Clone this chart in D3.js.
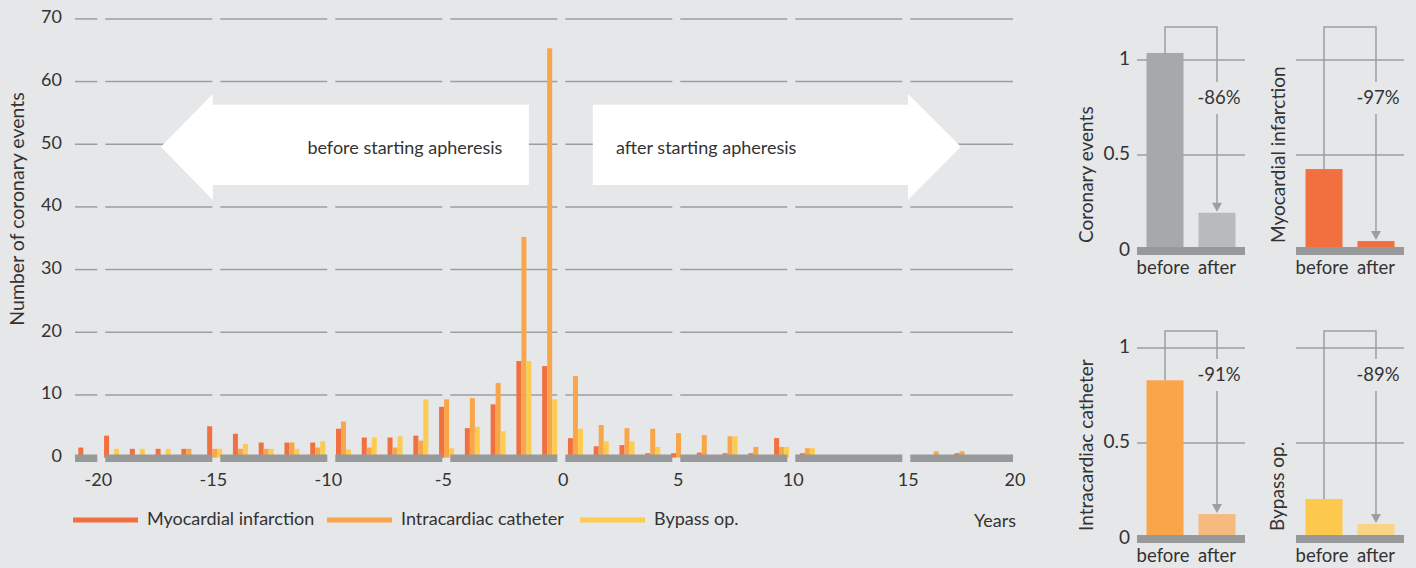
<!DOCTYPE html>
<html lang="en">
<head>
	<meta charset="UTF-8">
	<title>Coronary events and apheresis</title>
	<script src="https://cdn.jsdelivr.net/npm/d3@7"></script>
	<style>
		html,body{
			margin:0;
			padding:0;
			background:#e6e7e9;
		}
		svg{
			display:block;
			font-family:Lato,"Open Sans",sans-serif;
		}
		text{
			fill:#333;
		}
	</style>
</head>
<body>
	<svg id="svg" width="1416" height="568"></svg>
	<script>
		// time bins (a bit over one year each), oldest first
		var periods = [0,1,2,3,4,5,6,7,8,9,10,11,12,13,14,15,16,17,18,19,20,21,22,23,24,25,26,27,28,29,30,31,32,33,34];
		var infarction = [1.6,3.5,1.4,1.4,1.4,5.0,3.8,2.4,2.4,2.4,4.6,3.2,3.2,3.5,8.1,4.7,8.5,15.4,14.6,3.1,1.8,2.0,0.7,0.7,0.8,0.7,0.7,3.1,0.7,0,0,0,0,0,0.7];
		var catheter   = [0,0,0,0,1.4,1.4,1.4,1.4,2.4,1.6,5.75,1.6,1.6,2.7,9.3,9.5,11.9,35.2,65.3,13.0,5.2,4.7,4.6,3.9,3.6,3.4,1.7,1.7,1.5,0,0,0,0,1.0,1.0];
		var bypass     = [0,1.4,1.4,1.4,0,1.4,2.2,1.4,1.4,2.6,1.3,3.2,3.4,9.3,1.5,4.9,4.2,15.4,9.3,4.6,2.6,2.6,1.7,0,0,3.4,0,1.7,1.5,0,0,0,0,0,0];
		var seriesNames = ["Myocardial infarction","Intracardiac catheter","Bypass op."];
		var seriesColors = ["#f26f3f","#f9a54a","#fdcb4f"];
		var yTicks = [0,10,20,30,40,50,60,70];
		var yearTicks = [-20,-15,-10,-5,0,5,10,15,20];

		var panelNames = ["Coronary events","Myocardial infarction","Intracardiac catheter","Bypass op."];
		var beforeValues = [1.037,0.426,0.83,0.205];
		var afterValues = [0.196,0.047,0.126,0.074];
		var changeLabels = ["-86%","-97%","-91%","-89%"];
		var beforeColors = ["#a7a8aa","#f26f3f","#f9a54a","#fdc94c"];
		var afterColors = ["#b9babc","#f26f3f","#f5bb7e","#f8d485"];
		var panelTicks = [0,0.5,1];

		var svg = d3.select("svg");
		var grid = "#9d9ea0", base = "#98999b";

		// ---- main chart ----
		var y = d3.scaleLinear().domain([0,70]).range([457.6,18.9]);
		var xYear = d3.scaleLinear().domain([-20,15,20]).range([101.3,906.3,1013]);
		var bins = d3.scaleBand().domain(periods).range([78.3,969.5]).paddingInner(0.418).paddingOuter(0);
		var sub = d3.scaleBand().domain([0,1,2]).range([0,bins.bandwidth()]);

		// grid segments broken at every 5-year tick
		var cuts = yearTicks.slice(0,-1).map(function(t){return xYear(t);});
		var segs = [];
		var left = 75;
		cuts.forEach(function(c){
			segs.push([left,c-4]);
			left = c+4;
		});
		segs.push([left,xYear(20)]);

		yTicks.slice(1).forEach(function(v){
			svg.append("g").selectAll("line").data(segs).enter().append("line")
				.attr("x1",function(d){return d[0];})
				.attr("x2",function(d){return d[1];})
				.attr("y1",y(v)).attr("y2",y(v))
				.attr("stroke",grid).attr("stroke-width",1.5);
		});

		// arrows "before / after"
		var arrows = [
			{tip:-17.41, head:-15.15, end:-1.41, label:"before starting apheresis", lx:-6.8},
			{tip:17.56, head:15.08, end:1.37, label:"after starting apheresis", lx:6.3}
		];
		arrows.forEach(function(a){
			var pts = [
				[xYear(a.tip),y(49.6)],
				[xYear(a.head),y(58)],
				[xYear(a.head),y(56.3)],
				[xYear(a.end),y(56.3)],
				[xYear(a.end),y(43.5)],
				[xYear(a.head),y(43.5)],
				[xYear(a.head),y(41.1)]
			];
			svg.append("polygon")
				.attr("points",pts.map(function(p){return p.join(",");}).join(" "))
				.attr("fill","#fff");
			svg.append("text")
				.attr("x",xYear(a.lx)).attr("y",y(49.1))
				.attr("text-anchor","middle").attr("dominant-baseline","middle")
				.style("font-size","18px")
				.text(a.label);
		});

		var series = [infarction,catheter,bypass];
		series.forEach(function(vals,s){
			svg.append("g").selectAll("rect")
				.data(periods.filter(function(p){return vals[p]>0;}))
				.enter().append("rect")
				.attr("x",function(p){return bins(p)+sub(s);})
				.attr("width",sub.bandwidth())
				.attr("y",function(p){return y(vals[p]);})
				.attr("height",function(p){return y(0)-y(vals[p]);})
				.attr("fill",seriesColors[s]);
		});

		// zero band
		svg.append("g").selectAll("rect").data(segs).enter().append("rect")
			.attr("x",function(d){return d[0];})
			.attr("width",function(d){return d[1]-d[0];})
			.attr("y",454.5).attr("height",7.5)
			.attr("fill",base);

		svg.append("g").selectAll("text").data(yTicks).enter().append("text")
			.attr("x",62).attr("y",function(d){return y(d);})
			.attr("text-anchor","end").attr("dominant-baseline","middle")
			.style("font-size","18px")
			.text(function(d){return d;});

		svg.append("g").selectAll("text").data(yearTicks).enter().append("text")
			.attr("x",function(d){return xYear(d)+(d<0?-3:2);})
			.attr("y",481)
			.attr("text-anchor","middle").attr("dominant-baseline","middle")
			.style("font-size","18px")
			.text(function(d){return d;});

		svg.append("text")
			.attr("transform","translate(24,209) rotate(-90)")
			.attr("text-anchor","middle")
			.style("font-size","19.5px")
			.text("Number of coronary events");

		svg.append("text")
			.attr("x",995).attr("y",522)
			.attr("text-anchor","middle").attr("dominant-baseline","middle")
			.style("font-size","18px")
			.text("Years");

		// legend
		var legendX = [73,327,580];
		seriesNames.forEach(function(n,i){
			var g = svg.append("g").attr("transform","translate("+legendX[i]+",520)");
			g.append("line").attr("x1",0).attr("x2",65).attr("y1",0).attr("y2",0)
				.attr("stroke",seriesColors[i]).attr("stroke-width",5);
			g.append("text").attr("x",74).attr("y",0)
				.attr("dominant-baseline","middle")
				.style("font-size","18px")
				.text(n);
		});

		// ---- small panels: before vs after ----
		var panelLeft = [1137,1296,1137,1296];
		var panelZero = [250,250,538,538];
		var bracketTop = [27,27,331,331];
		var labelY = [99,99,376,376];
		var titleX = [1093,1285,1093,1284];

		panelNames.forEach(function(name,i){
			var py = d3.scaleLinear().domain([0,1]).range([panelZero[i],panelZero[i]-190]);
			var px = d3.scaleBand().domain(["before","after"])
				.range([panelLeft[i],panelLeft[i]+108]).paddingInner(0.288).paddingOuter(0.183);
			var g = svg.append("g");

			g.selectAll("line.grid").data(panelTicks.slice(1)).enter().append("line")
				.attr("x1",panelLeft[i]).attr("x2",panelLeft[i]+108)
				.attr("y1",function(d){return py(d);}).attr("y2",function(d){return py(d);})
				.attr("stroke",grid).attr("stroke-width",1.5);

			var bx = px("before")+px.bandwidth()/2, ax = px("after")+px.bandwidth()/2;
			var yb = py(beforeValues[i]), ya = py(afterValues[i]);
			var lineCol = "#9d9ea0";
			g.append("path")
				.attr("d","M"+bx+","+yb+"V"+bracketTop[i]+"H"+ax+"V"+(labelY[i]-17))
				.attr("fill","none").attr("stroke",lineCol).attr("stroke-width",1.5);
			g.append("path")
				.attr("d","M"+ax+","+(labelY[i]+15)+"V"+(ya-8))
				.attr("fill","none").attr("stroke",lineCol).attr("stroke-width",1.5);
			g.append("path")
				.attr("d","M"+(ax-5)+","+(ya-10)+"L"+(ax+5)+","+(ya-10)+"L"+ax+","+(ya-1)+"Z")
				.attr("fill",lineCol);

			g.append("rect").attr("x",px("before")).attr("width",px.bandwidth())
				.attr("y",yb).attr("height",py(0)-yb).attr("fill",beforeColors[i]);
			g.append("rect").attr("x",px("after")).attr("width",px.bandwidth())
				.attr("y",ya).attr("height",py(0)-ya).attr("fill",afterColors[i]);

			g.append("rect").attr("x",panelLeft[i]).attr("width",108)
				.attr("y",py(0)-3).attr("height",8).attr("fill",base);

			g.append("text").attr("x",ax+2).attr("y",labelY[i])
				.attr("text-anchor","middle").attr("dominant-baseline","middle")
				.style("font-size","18.5px")
				.text(changeLabels[i]);

			g.selectAll("text.cat").data(["before","after"]).enter().append("text")
				.attr("x",function(d){return px(d)+px.bandwidth()/2+(d=="before"?-2:0);})
				.attr("y",panelZero[i]+19)
				.attr("text-anchor","middle").attr("dominant-baseline","middle")
				.style("font-size","18.5px")
				.text(function(d){return d;});

			g.append("text")
				.attr("transform","translate("+titleX[i]+","+(panelZero[i]-7)+") rotate(-90)")
				.style("font-size","19px")
				.text(name);

			if(i%2==0){
				g.selectAll("text.tick").data(panelTicks).enter().append("text")
					.attr("x",panelLeft[i]-7)
					.attr("y",function(d){return py(d)+(d==0?1:0);})
					.attr("text-anchor","end").attr("dominant-baseline","middle")
					.style("font-size","19px")
					.text(function(d){return d;});
			}
		});
	</script>
</body>
</html>
